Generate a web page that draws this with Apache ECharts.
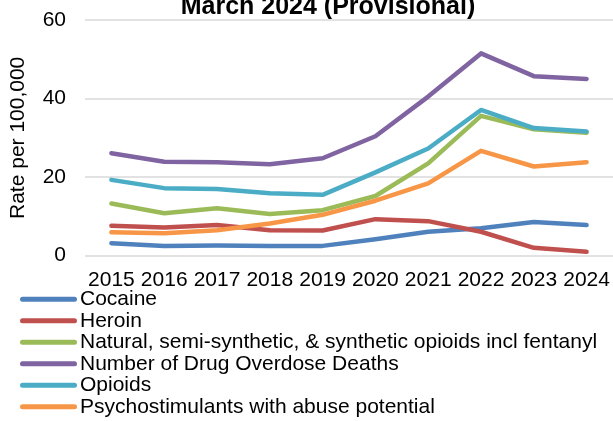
<!DOCTYPE html>
<html><head><meta charset="utf-8">
<script src="https://cdn.jsdelivr.net/npm/echarts@6/dist/echarts.min.js"></script>
<style>html,body{margin:0;padding:0;background:#fff}#c{width:613px;height:421px}</style>
</head><body><div id="c"></div>
<script>
const years = ['2015','2016','2017','2018','2019','2020','2021','2022','2023','2024'];
const cocaine = [3.2, 2.5, 2.6, 2.5, 2.5, 4.2, 6.1, 7.0, 8.6, 7.8];
const heroin = [7.6, 7.2, 7.8, 6.5, 6.4, 9.3, 8.8, 6.1, 2.0, 1.0];
const natural = [13.3, 10.8, 12.1, 10.6, 11.6, 15.2, 23.5, 35.6, 32.2, 31.3];
const deaths = [26.1, 23.9, 23.8, 23.3, 24.8, 30.4, 40.5, 51.5, 45.7, 45.0];
const opioids = [19.3, 17.2, 17.0, 15.9, 15.5, 21.2, 27.3, 37.1, 32.5, 31.6];
const psycho = [5.95, 5.7, 6.5, 8.2, 10.4, 14.0, 18.4, 26.7, 22.7, 23.8];
const yTicks = [0, 20, 40, 60];
const seriesNames = ['Cocaine','Heroin','Natural, semi-synthetic, & synthetic opioids incl fentanyl','Number of Drug Overdose Deaths','Opioids','Psychostimulants with abuse potential'];
const seriesData = [cocaine, heroin, natural, deaths, opioids, psycho];
const colors = ['#4F81BD','#C0504D','#9BBB59','#8064A2','#4BACC6','#F79646'];

const font = '"Liberation Sans", Arial, sans-serif';
const chart = echarts.init(document.getElementById('c'));
chart.setOption({
  animation: false,
  color: colors,
  title: {
    text: 'March 2024 (Provisional)',
    left: 323, textAlign: 'center', top: -10,
    textStyle: {fontFamily: font, fontSize: 25, fontWeight: 'bold', color: '#000'}
  },
  legend: {
    orient: 'vertical', left: 20, top: 288.5, bottom: 0, padding: 0,
    icon: 'path://M2.5,0 H54.5 A2.5,2.5 0 0 1 54.5,5 H2.5 A2.5,2.5 0 0 1 2.5,0 Z',
    itemWidth: 57, itemHeight: 5, itemGap: 0,
    textStyle: {fontFamily: font, fontSize: 21, color: '#000', lineHeight: 21.5, padding: [0,0,0,-2]},
    data: seriesNames
  },
  grid: {left: 80, right: -2, top: 20, bottom: 165.3, containLabel: false},
  xAxis: {
    type: 'category', data: years, boundaryGap: true,
    axisLine: {show: false}, axisTick: {show: false},
    axisLabel: {fontFamily: font, fontSize: 21, color: '#000', margin: 14, interval: 0}
  },
  yAxis: {
    type: 'value', min: yTicks[0], max: yTicks[yTicks.length-1], interval: 20,
    name: 'Rate per 100,000', nameLocation: 'middle', nameGap: 56,
    nameTextStyle: {fontFamily: font, fontSize: 21, color: '#000'},
    axisLine: {show: false}, axisTick: {show: false},
    axisLabel: {fontFamily: font, fontSize: 21, color: '#000', margin: 19},
    splitLine: {lineStyle: {color: '#d9d9d9', width: 1.5}}
  },
  series: seriesNames.map((n, i) => ({
    name: n, type: 'line', data: seriesData[i], symbol: 'none', showSymbol: false,
    lineStyle: {width: 4.5, color: colors[i], cap: 'round', join: 'round'},
    itemStyle: {color: colors[i]}
  }))
});
</script></body></html>
